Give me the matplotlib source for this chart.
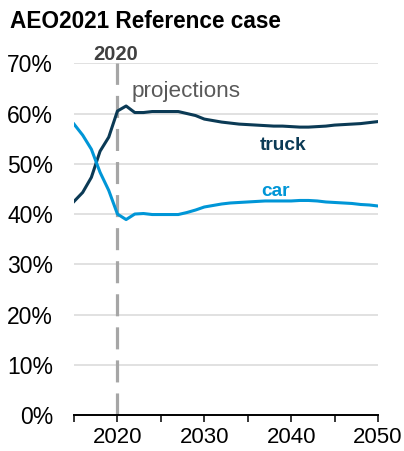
import matplotlib
matplotlib.use("Agg")
import matplotlib.pyplot as plt
import numpy as np

plt.rcParams['font.family'] = ['Liberation Sans', 'DejaVu Sans']

years = list(range(2015, 2051))
truck = [42.5, 44.3, 47.3, 52.5, 55.3, 60.5, 61.5, 60.2, 60.2, 60.4,
         60.4, 60.4, 60.4, 60.0, 59.6, 58.9, 58.6, 58.3, 58.1, 57.9,
         57.8, 57.7, 57.6, 57.5, 57.5, 57.4, 57.3, 57.3, 57.4, 57.5,
         57.7, 57.8, 57.9, 58.0, 58.2, 58.4]
car = [57.9, 55.7, 52.9, 48.3, 44.7, 40.0, 38.9, 40.0, 40.1, 39.9,
       39.9, 39.9, 39.9, 40.3, 40.8, 41.4, 41.7, 42.0, 42.2, 42.3,
       42.4, 42.5, 42.6, 42.6, 42.6, 42.6, 42.7, 42.7, 42.6, 42.4,
       42.3, 42.2, 42.1, 41.9, 41.8, 41.6]
yticks = [0, 10, 20, 30, 40, 50, 60, 70]
xticks_major = [2020, 2030, 2040, 2050]
xticks_minor = [2015, 2025, 2035, 2045]

TRUCK_C = '#0b3a55'
CAR_C = '#0096d7'

W, H = 404, 451
fig = plt.figure(figsize=(W / 100, H / 100), dpi=100)
ax = fig.add_axes([74 / W, 1 - 415 / H, (378 - 74) / W, (415 - 63.3) / H])

ax.set_xlim(2015, 2050)
ax.set_ylim(0, 70)

for y in yticks[1:]:
    ax.axhline(y, color='#d9d9d9', lw=1.1, zorder=0)

ax.axvline(2020, color='#a6a6a6', lw=2.3, dashes=(6.9, 3.45), zorder=1)

ax.plot(years, truck, color=TRUCK_C, lw=2.2, zorder=3, solid_joinstyle='round')
ax.plot(years, car, color=CAR_C, lw=2.2, zorder=3, solid_joinstyle='round')

ax.set_yticks(yticks)
ax.set_yticklabels([f"{v}%" for v in yticks], fontsize=16.5)
ax.tick_params(axis='y', length=0, pad=15)

ax.set_xticks(xticks_major)
ax.set_xticks(xticks_minor, minor=True)
ax.set_xticklabels([str(v) for v in xticks_major], fontsize=16)
ax.tick_params(axis='x', which='both', direction='out', length=5, width=1.1, color='black', pad=3.5)

for s in ['top', 'right', 'left']:
    ax.spines[s].set_visible(False)
ax.spines['bottom'].set_color('black')
ax.spines['bottom'].set_linewidth(1.4)
ax.spines['bottom'].set_zorder(4)

fig.text(10 / W, 1 - 28 / H, "AEO2021 Reference case", fontsize=16.3,
         fontweight='bold', ha='left', va='baseline', color='black')
fig.text(116 / W, 1 - 60 / H, "2020", fontsize=14.5, fontweight='bold',
         ha='center', va='baseline', color='#404040')
fig.text(132 / W, 1 - 97.5 / H, "projections", fontsize=16.2,
         ha='left', va='baseline', color='#595959')
fig.text(283 / W, 1 - 150 / H, "truck", fontsize=13.8, fontweight='bold',
         ha='center', va='baseline', color=TRUCK_C)
fig.text(275.5 / W, 1 - 196 / H, "car", fontsize=13.8, fontweight='bold',
         ha='center', va='baseline', color=CAR_C)

fig.savefig("out.png", dpi=100)
